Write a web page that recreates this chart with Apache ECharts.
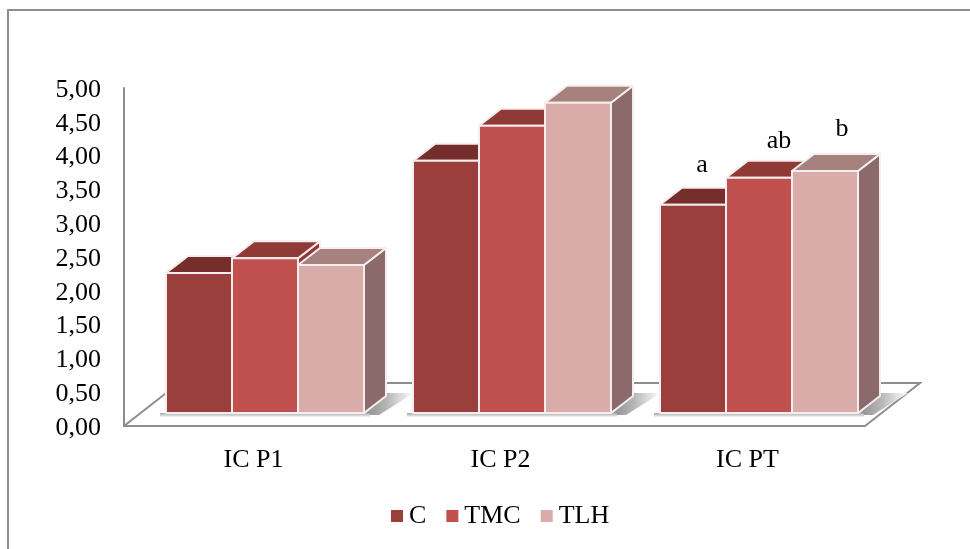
<!DOCTYPE html>
<html>
<head>
<meta charset="utf-8">
<style>
html, body { margin: 0; padding: 0; background: #fff; }
#chart { width: 970px; height: 549px; }
</style>
<script src="https://cdn.jsdelivr.net/npm/echarts@6/dist/echarts.min.js"></script>
</head>
<body>
<div id="chart"></div>
<script>
const categories = ['IC P1', 'IC P2', 'IC PT'];
const seriesNames = ['C', 'TMC', 'TLH'];
const valuesC = [2.07, 3.73, 3.08];
const valuesTMC = [2.29, 4.25, 3.48];
const valuesTLH = [2.19, 4.59, 3.58];
const yTicks = ['0,00', '0,50', '1,00', '1,50', '2,00', '2,50', '3,00', '3,50', '4,00', '4,50', '5,00'];
const letters = ['a', 'ab', 'b'];

const FONT = '"Liberation Serif", "Times New Roman", serif';
const GREY = '#8e8e8e';
const EDGE = '#f6eeee';
const BAR_W = 66;
const DX = 22, DY = -17;       // 3d depth of a bar
const FLOOR_DX = 55, FLOOR_DY = -43;
const GROUP_SHIFT = 17.5, BASE_SHIFT = 13;

const palette = [
    { front: '#9a3f3c', top: '#752e2c', side: '#752e2c' },
    { front: '#c0504d', top: '#903a38', side: '#903a38' },
    { front: '#d9aba9', top: '#a6817e', side: '#8c6a6b' }
];

const chart = echarts.init(document.getElementById('chart'));

function poly(points, fill, stroke) {
    return {
        type: 'polygon',
        shape: { points },
        style: { fill, stroke: stroke || EDGE, lineWidth: 2, lineJoin: 'round' }
    };
}

// one 3d column, front face from the axis scale, top and side offset from it
function bar3d(idx) {
    return (params, api) => {
        const p = api.coord([api.value(0), api.value(1)]);
        const zero = api.coord([api.value(0), 0]);
        const x0 = zero[0] + GROUP_SHIFT + (idx - 1.5) * BAR_W;
        const x1 = x0 + BAR_W;
        const yb = zero[1] - BASE_SHIFT;
        const yt = p[1] - BASE_SHIFT;
        const c = palette[idx];
        return {
            type: 'group',
            children: [
                poly([[x1, yt], [x1 + DX, yt + DY], [x1 + DX, yb + DY], [x1, yb]], c.side),
                poly([[x0, yt], [x0 + DX, yt + DY], [x1 + DX, yt + DY], [x1, yt]], c.top),
                poly([[x0, yt], [x1, yt], [x1, yb], [x0, yb]], c.front)
            ]
        };
    };
}

function renderFloor(params, api) {
    const s = params.coordSys;
    const y0 = s.y + s.height, x0 = s.x, x1 = s.x + s.width;
    return {
        type: 'polyline',
        shape: {
            points: [[x0, y0], [x0 + FLOOR_DX, y0 + FLOOR_DY], [x1 + FLOOR_DX, y0 + FLOOR_DY], [x1, y0]]
        },
        style: { fill: null, stroke: GREY, lineWidth: 2 }
    };
}

// soft grey shadow a column group throws on the floor
function renderShadow(params, api) {
    const zero = api.coord([api.value(0), 0]);
    const cx = zero[0] + GROUP_SHIFT;
    const xl = cx - 1.5 * BAR_W, xr = cx + 1.5 * BAR_W;
    const yb = zero[1] - BASE_SHIFT;
    return {
        type: 'group',
        children: [
            {
                type: 'polygon',
                shape: { points: [[xr, yb + 2], [xr + DX, yb + DY - 3], [xr + DX + 28, yb + DY - 3], [xr + 15, yb + 2]] },
                style: {
                    fill: new echarts.graphic.LinearGradient(0, 0, 1, 0, [
                        { offset: 0, color: '#8c8c8c' },
                        { offset: 0.45, color: '#b5b5b5' },
                        { offset: 1, color: '#ffffff' }
                    ])
                }
            },
            {
                type: 'rect',
                shape: { x: xl - 6, y: yb, width: BAR_W * 3 + 12, height: 4 },
                style: {
                    fill: new echarts.graphic.LinearGradient(0, 0, 0, 1, [
                        { offset: 0, color: '#a5a5a5' },
                        { offset: 1, color: '#f4f4f4' }
                    ])
                }
            }
        ]
    };
}

const barValues = [valuesC, valuesTMC, valuesTLH];

chart.setOption({
    animation: false,
    backgroundColor: '#fff',
    textStyle: { fontFamily: FONT },
    grid: { left: 124, top: 88, width: 741, height: 338 },
    legend: {
        left: 391,
        top: 503,
        padding: 0,
        icon: 'rect',
        itemWidth: 12,
        itemHeight: 12,
        itemGap: 20,
        data: seriesNames,
        textStyle: { fontFamily: FONT, fontSize: 26, color: '#000', padding: [0, 0, 0, 1] }
    },
    xAxis: {
        type: 'category',
        data: categories,
        axisTick: { show: false },
        axisLine: { lineStyle: { color: GREY, width: 2 } },
        axisLabel: { fontFamily: FONT, fontSize: 26, color: '#000', margin: 21, padding: [0, 0, 0, 12] }
    },
    yAxis: {
        type: 'value',
        min: 0,
        max: 5,
        interval: 0.5,
        splitLine: { show: false },
        axisTick: { show: false },
        axisLine: { show: true, lineStyle: { color: GREY, width: 2 } },
        axisLabel: {
            margin: 23,
            formatter: (val, i) => '{t|' + yTicks[i] + '}',
            rich: { t: { fontFamily: FONT, fontSize: 26, color: '#000', padding: [4, 0, 0, 0] } }
        }
    },
    graphic: [
        {
            type: 'polyline',
            silent: true,
            shape: { points: [[8, 549], [8, 10], [970, 10]] },
            style: { fill: null, stroke: GREY, lineWidth: 2 }
        },
        { type: 'text', x: 702, y: 165, style: { text: letters[0], font: '26px ' + FONT, fill: '#000', textAlign: 'center', textVerticalAlign: 'middle' } },
        { type: 'text', x: 779, y: 141, style: { text: letters[1], font: '26px ' + FONT, fill: '#000', textAlign: 'center', textVerticalAlign: 'middle' } },
        { type: 'text', x: 842, y: 129, style: { text: letters[2], font: '26px ' + FONT, fill: '#000', textAlign: 'center', textVerticalAlign: 'middle' } }
    ],
    series: [
        {
            type: 'custom',
            name: 'floor',
            silent: true,
            z: 1,
            clip: false,
            renderItem: renderFloor,
            data: [[0, 0]]
        },
        {
            type: 'custom',
            name: 'shadow',
            silent: true,
            z: 2,
            clip: false,
            renderItem: renderShadow,
            data: categories.map((c, i) => [i, 0])
        }
    ].concat(seriesNames.map((name, idx) => ({
        type: 'custom',
        name,
        z: 3 + idx,
        clip: false,
        itemStyle: { color: palette[idx].front },
        renderItem: bar3d(idx),
        encode: { x: 0, y: 1 },
        data: barValues[idx].map((v, i) => [i, v])
    })))
});
</script>
</body>
</html>
